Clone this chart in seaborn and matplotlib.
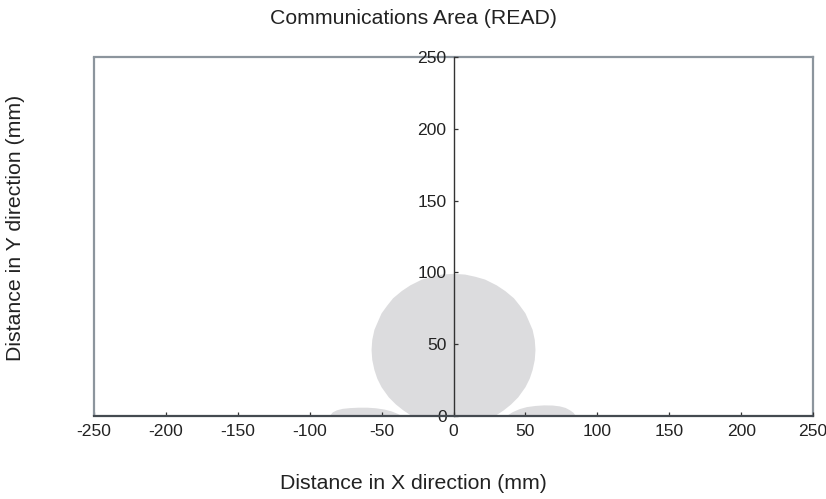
import matplotlib
matplotlib.use("Agg")
import matplotlib.pyplot as plt
import seaborn as sns
from matplotlib.patches import Rectangle

# outline of the main read lobe (mm)
main_x = [-29, -35, -40, -45, -50, -53, -55, -56.5, -57, -56.5, -55, -52, -50, -46, -42, -36, -30,
          -22, -15, -8, 0, 8, 15, 22, 30, 36, 42, 46, 50, 52, 55, 56.5, 57, 56.5, 55, 53, 50, 45, 40, 35, 29]
main_y = [0, 4, 8, 13, 20, 26, 32, 39, 46, 53, 60, 67, 71.5, 77, 82, 87, 91,
          95, 97, 98.5, 99, 98.5, 97, 95, 91, 87, 82, 77, 71.5, 67, 60, 53, 46, 39, 32, 26, 20, 13, 8, 4, 0]

# side lobes
left_x = [-86, -84, -81, -77, -72, -66, -60, -54, -48, -43, -39, -36]
left_y = [0, 2.5, 4.0, 5.0, 5.5, 5.8, 5.8, 5.4, 4.5, 3.2, 1.6, 0]
right_x = [37, 41, 46, 51, 57, 63, 69, 74, 78, 81, 83.5, 85]
right_y = [0, 2.6, 4.8, 6.2, 7.0, 7.4, 7.3, 6.7, 5.6, 4.0, 2.2, 0]

x_ticks = [-250, -200, -150, -100, -50, 0, 50, 100, 150, 200, 250]
y_ticks = [0, 50, 100, 150, 200, 250]

sns.set_theme(style="ticks", rc={"xtick.direction": "in", "ytick.direction": "in",
                                 "axes.axisbelow": False})
plt.rcParams["font.family"] = ["Liberation Sans", "DejaVu Sans"]
plt.rcParams["axes.unicode_minus"] = False

fig = plt.figure(figsize=(8.26, 4.99), dpi=100)
ax = fig.add_axes([0.1138, 0.1663, 0.8705, 0.7195])

fill_col = "#dcdcde"
for xs, ys in [(main_x, main_y), (left_x, left_y), (right_x, right_y)]:
    ax.fill(xs, ys, color=fill_col, lw=0, zorder=1)

ax.set_xlim(-250, 250)
ax.set_ylim(0, 250)
ax.set_xticks(x_ticks)
ax.set_yticks(y_ticks)

# gray outer frame
for s in ["top", "right"]:
    ax.spines[s].set_visible(True)
    ax.spines[s].set_color("#8c959d")
    ax.spines[s].set_linewidth(1.6)
ax.add_patch(Rectangle((0, 0), 0.0, 1, transform=ax.transAxes, fill=False,
                       ec="#8c959d", lw=1.6, clip_on=False, zorder=3))

# y axis runs through x = 0
ax.spines["left"].set_position(("data", 0))
ax.spines["left"].set_color("#333333")
ax.spines["left"].set_linewidth(1.0)
ax.spines["bottom"].set_color("#444a50")
ax.spines["bottom"].set_linewidth(1.6)
for s in ["left", "bottom"]:
    ax.spines[s].set_zorder(4)

ax.tick_params(axis="both", which="major", direction="in", length=3, width=0.9,
               color="#333333", labelsize=12.6, labelcolor="#222222",
               bottom=True, left=True, top=False, right=False)
ax.tick_params(axis="x", pad=6)
ax.tick_params(axis="y", pad=5)

fig.text(0.5, 0.962, "Communications Area (READ)", ha="center", va="center",
         fontsize=15.3, color="#222222")
fig.text(0.5, 0.031, "Distance in X direction (mm)", ha="center", va="center",
         fontsize=15.3, color="#222222")
fig.text(0.019, 0.543, "Distance in Y direction (mm)", ha="center", va="center",
         rotation=90, fontsize=15.3, color="#222222")

fig.savefig("out.png", dpi=100)
